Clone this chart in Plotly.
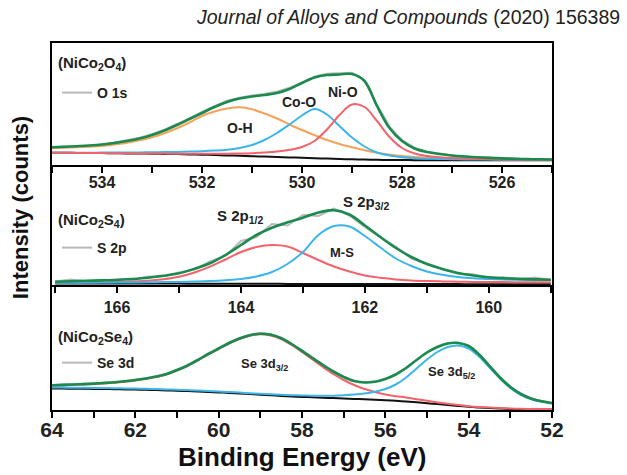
import plotly.graph_objects as go

# ---------------- O 1s (NiCo2O4) ----------------
O1s_energy = [535.0, 534.75, 534.5, 534.25, 534.0, 533.75, 533.5, 533.25, 533.0, 532.75, 532.5,
              532.25, 532.0, 531.75, 531.5, 531.25, 531.0, 530.75, 530.5, 530.25, 530.0, 529.75,
              529.5, 529.25, 529.0, 528.75, 528.5, 528.25, 528.0, 527.75, 527.5, 527.25, 527.0,
              526.75, 526.5, 526.25, 526.0, 525.75, 525.5, 525.25, 525.0]
O1s_raw = [17.5, 18.5, 18.6, 19.8, 20.3, 22.4, 24.6, 27.2, 30.8, 35.3, 41.2, 46.6, 53.0, 58.8,
           64.2, 67.3, 69.6, 70.9, 73.4, 77.2, 83.1, 88.4, 91.2, 91.6, 92.3, 84.5, 60.2, 38.4,
           24.8, 17.3, 13.2, 11.4, 9.6, 8.8, 7.6, 7.3, 6.5, 6.4, 5.8, 5.9, 5.4]
O1s_fit = [17.7, 18.2, 18.8, 19.5, 20.5, 22.0, 24.0, 26.5, 30.0, 34.5, 40.0, 46.0, 52.0, 58.0,
           63.0, 66.5, 68.5, 70.0, 72.0, 76.0, 82.0, 87.5, 90.0, 90.5, 91.0, 84.0, 59.0, 37.0,
           24.0, 16.5, 13.0, 11.0, 9.5, 8.5, 7.7, 7.1, 6.6, 6.2, 5.9, 5.7, 5.5]
O1s_OH = [16.7, 17.2, 17.7, 18.3, 19.0, 20.5, 22.3, 24.7, 27.7, 31.8, 36.7, 42.5, 49.0, 53.5,
          56.5, 57.7, 55.7, 51.5, 46.5, 40.5, 35.0, 29.8, 25.0, 21.0, 17.7, 14.8, 12.3, 10.5,
          9.0, 8.0, 7.3, 6.8, 6.5, 6.3, 6.1, 6.0, 5.9, 5.8, 5.7, 5.6, 5.5]
O1s_CoO = [12.3, 12.3, 12.3, 12.3, 12.4, 12.4, 12.5, 12.6, 12.7, 12.9, 13.1, 13.4, 13.8, 14.4,
           15.3, 17.0, 20.0, 25.0, 32.0, 40.5, 49.5, 56.0, 50.5, 39.0, 27.5, 18.5, 12.5, 9.5,
           7.8, 6.8, 6.3, 6.0, 5.8, 5.6, 5.5, 5.4, 5.3, 5.2, 5.1, 5.05, 5.0]
O1s_NiO = [12.2, 12.2, 12.1, 12.0, 11.9, 11.8, 11.7, 11.6, 11.5, 11.4, 11.3, 11.2, 11.2, 11.2,
           11.3, 11.5, 11.8, 12.4, 13.4, 15.2, 18.0, 24.0, 35.5, 50.0, 60.5, 58.0, 44.0, 28.0,
           17.0, 11.5, 9.0, 7.8, 7.0, 6.5, 6.1, 5.8, 5.6, 5.4, 5.3, 5.2, 5.1]
O1s_bg = [12.3, 12.2, 12.1, 12.0, 11.9, 11.8, 11.6, 11.5, 11.3, 11.1, 10.9, 10.6, 10.3, 10.0,
          9.6, 9.2, 8.8, 8.4, 8.0, 7.6, 7.2, 6.8, 6.4, 6.0, 5.7, 5.4, 5.2, 5.0, 4.9, 4.85,
          4.8, 4.8, 4.8, 4.75, 4.75, 4.75, 4.7, 4.7, 4.7, 4.7, 4.7]

# ---------------- S 2p (NiCo2S4) ----------------
S2p_energy = [167.0, 166.75, 166.5, 166.25, 166.0, 165.75, 165.5, 165.25, 165.0, 164.75, 164.5,
              164.25, 164.0, 163.75, 163.5, 163.25, 163.0, 162.75, 162.5, 162.25, 162.0, 161.75,
              161.5, 161.25, 161.0, 160.75, 160.5, 160.25, 160.0, 159.75, 159.5, 159.25, 159.0]
S2p_raw = [4.5, 6.5, 4.8, 5.4, 6.8, 6.2, 9.5, 9.8, 13.5, 16.5, 24.5, 30.0, 45.0, 49.0, 62.0,
           60.5, 71.0, 70.0, 77.5, 70.5, 59.0, 48.5, 39.5, 27.5, 22.5, 17.0, 12.3, 11.8, 8.2,
           8.6, 6.8, 8.4, 6.0]
S2p_fit = [4.3, 4.8, 5.2, 5.6, 6.0, 7.0, 8.3, 10.2, 12.7, 17.2, 22.7, 31.0, 41.0, 51.0, 58.3,
           63.7, 68.3, 73.5, 75.8, 71.5, 60.5, 49.0, 38.0, 29.0, 22.0, 17.0, 13.0, 10.5, 8.8,
           7.8, 7.1, 6.6, 6.3]
S2p_half = [3.3, 3.4, 3.5, 3.7, 4.0, 4.6, 5.3, 6.8, 9.3, 13.5, 19.3, 26.5, 34.0, 39.0, 41.0,
            39.5, 33.0, 26.0, 19.5, 14.5, 10.5, 8.2, 6.6, 5.6, 5.0, 4.6, 4.3, 4.1, 4.0, 3.9,
            3.8, 3.75, 3.7]
S2p_threehalf = [3.3, 3.3, 3.4, 3.4, 3.5, 3.6, 3.7, 3.9, 4.1, 4.5, 5.0, 5.8, 7.0, 9.5, 14.0,
                 22.0, 34.0, 51.0, 60.0, 59.5, 50.0, 38.5, 27.5, 20.0, 14.5, 11.2, 9.0, 7.7,
                 7.0, 6.5, 6.2, 6.0, 5.9]
S2p_bg = [2.6, 2.6, 2.6, 2.5, 2.5, 2.5, 2.4, 2.4, 2.4, 2.3, 2.3, 2.3, 2.2, 2.2, 2.2, 2.1, 2.1,
          2.1, 2.0, 2.0, 2.0, 2.0, 1.9, 1.9, 1.9, 1.9, 1.9, 1.8, 1.8, 1.8, 1.8, 1.8, 1.8]

# ---------------- Se 3d (NiCo2Se4) ----------------
Se3d_energy = [64.0, 63.75, 63.5, 63.25, 63.0, 62.75, 62.5, 62.25, 62.0, 61.75, 61.5, 61.25,
               61.0, 60.75, 60.5, 60.25, 60.0, 59.75, 59.5, 59.25, 59.0, 58.75, 58.5, 58.25,
               58.0, 57.75, 57.5, 57.25, 57.0, 56.75, 56.5, 56.25, 56.0, 55.75, 55.5, 55.25,
               55.0, 54.75, 54.5, 54.25, 54.0, 53.75, 53.5, 53.25, 53.0, 52.75, 52.5, 52.25, 52.0]
Se3d_raw = [24.6, 25.4, 25.3, 26.3, 26.2, 27.4, 27.6, 29.1, 30.3, 31.4, 33.9, 36.2, 40.4, 44.3,
            50.3, 56.6, 61.9, 67.6, 72.0, 75.2, 77.0, 75.9, 72.4, 66.3, 59.7, 52.4, 45.4, 38.8,
            33.4, 29.1, 27.8, 28.4, 31.2, 35.8, 42.3, 50.4, 57.8, 63.5, 67.0, 67.4, 64.4, 56.0,
            44.3, 33.0, 23.4, 16.4, 11.3, 8.9, 6.9]
Se3d_fit = [24.8, 25.1, 25.5, 25.9, 26.4, 27.0, 27.7, 28.7, 30.0, 31.5, 33.5, 36.0, 40.0, 44.5,
            50.0, 56.0, 61.5, 67.0, 71.5, 74.8, 76.3, 75.2, 71.8, 66.0, 59.2, 52.0, 45.0, 38.5,
            33.0, 29.0, 27.5, 28.2, 31.0, 35.5, 42.0, 50.0, 57.5, 63.0, 66.5, 67.0, 64.0, 55.5,
            44.0, 32.5, 23.0, 16.0, 11.5, 8.7, 7.0]
Se3d_threehalf = [24.3, 24.6, 25.0, 25.4, 25.9, 26.5, 27.2, 28.2, 29.5, 31.0, 33.0, 35.5, 39.5,
                  44.0, 49.5, 55.5, 61.0, 66.5, 71.0, 74.3, 75.7, 74.5, 71.0, 65.0, 58.0, 50.5,
                  43.0, 36.0, 30.0, 25.0, 21.0, 18.0, 15.5, 13.8, 12.5, 10.8, 9.2, 7.6, 6.2, 4.9,
                  3.8, 3.0, 2.4, 1.9, 1.5, 1.2, 1.0, 0.9, 0.8]
Se3d_fivehalf = [22.5, 22.4, 22.3, 22.2, 22.1, 22.0, 21.8, 21.6, 21.4, 21.2, 20.9, 20.6, 20.3,
                 19.9, 19.5, 19.0, 18.5, 18.0, 17.4, 16.8, 16.2, 15.7, 15.2, 14.8, 14.5, 14.3,
                 14.2, 14.3, 14.7, 15.4, 16.5, 18.3, 21.0, 25.5, 32.5, 41.5, 50.5, 58.0, 63.0,
                 64.5, 61.5, 53.5, 42.5, 31.5, 22.0, 15.2, 10.8, 8.3, 6.6]
Se3d_bg = [21.5, 21.4, 21.3, 21.2, 21.1, 21.0, 20.8, 20.6, 20.4, 20.2, 19.9, 19.6, 19.3, 18.9,
           18.5, 18.1, 17.6, 17.1, 16.5, 15.9, 15.3, 14.7, 14.1, 13.6, 13.1, 12.7, 12.3, 11.9,
           11.5, 11.1, 10.7, 10.3, 9.8, 9.2, 8.5, 7.7, 6.8, 5.9, 5.0, 4.1, 3.2, 2.5, 1.9, 1.4,
           1.0, 0.8, 0.6, 0.5, 0.4]

GREEN = "#1b8a4e"
ORANGE = "#f5a25a"
BLUE = "#3db5ea"
RED = "#f2636b"
GRAY = "#b9b9b9"
BLACK = "#111111"
FONT = "Liberation Sans"

fig = go.Figure()


def add_panel(xa, ya, energy, raw, comps, bg, fit, raw_name, legend_id):
    fig.add_trace(go.Scatter(x=energy, y=raw, mode="lines", name=raw_name,
                             line=dict(color=GRAY, width=2), xaxis=xa, yaxis=ya,
                             legend=legend_id, showlegend=True))
    fig.add_trace(go.Scatter(x=energy, y=bg, mode="lines", line=dict(color=BLACK, width=2, shape="spline"),
                             xaxis=xa, yaxis=ya, showlegend=False))
    for vals, col in comps:
        fig.add_trace(go.Scatter(x=energy, y=vals, mode="lines",
                                 line=dict(color=col, width=2, shape="spline"),
                                 xaxis=xa, yaxis=ya, showlegend=False))
    fig.add_trace(go.Scatter(x=energy, y=fit, mode="lines",
                             line=dict(color=GREEN, width=2.6, shape="spline"),
                             xaxis=xa, yaxis=ya, showlegend=False))


add_panel("x", "y", O1s_energy, O1s_raw, [(O1s_OH, ORANGE), (O1s_CoO, BLUE), (O1s_NiO, RED)],
          O1s_bg, O1s_fit, "O 1s", "legend")
add_panel("x2", "y2", S2p_energy, S2p_raw, [(S2p_half, RED), (S2p_threehalf, BLUE)],
          S2p_bg, S2p_fit, "S 2p", "legend2")
add_panel("x3", "y3", Se3d_energy, Se3d_raw, [(Se3d_threehalf, RED), (Se3d_fivehalf, BLUE)],
          Se3d_bg, Se3d_fit, "Se 3d", "legend3")


def xax(rng, anchor, size, mirror, standoff):
    return dict(range=rng, anchor=anchor, domain=[0, 1], dtick=2, tick0=0, ticks="outside",
                ticklen=6, tickwidth=2, tickcolor="black", showline=True, linewidth=2,
                linecolor="black", mirror=mirror, showgrid=False, zeroline=False,
                ticklabelstandoff=standoff,
                tickfont=dict(family=FONT, size=size, color="#222", weight="bold"),
                minor=dict(ticks="outside", dtick=1, tick0=0, ticklen=6, tickwidth=2,
                           tickcolor="black"))


def yax(rng, anchor, dom):
    return dict(range=rng, anchor=anchor, domain=dom, showline=True, linewidth=2,
                linecolor="black", mirror=True, ticks="", showticklabels=False,
                showgrid=False, zeroline=False)


leg = dict(bgcolor="rgba(0,0,0,0)", borderwidth=0, xanchor="left", yanchor="middle",
           font=dict(family=FONT, size=14, color="#222", weight="bold"), itemwidth=30)

fig.update_layout(
    width=627, height=475,
    margin=dict(l=52, r=75, t=43, b=65),
    paper_bgcolor="white", plot_bgcolor="white",
    xaxis=xax([535, 525], "y", 16, True, -4),
    xaxis2=xax([167.05, 158.98], "y2", 16, False, 1),
    xaxis3=xax([64, 52], "y3", 21, False, -6),
    yaxis=yax([0, 122], "x", [0.6676, 1]),
    yaxis2=yax([1, 121], "x2", [0.3406, 0.6676]),
    yaxis3=yax([0, 125], "x3", [0, 0.3406]),
    legend=dict(leg, x=0.01, y=0.8638),
    legend2=dict(leg, x=0.01, y=0.4414),
    legend3=dict(leg, x=0.01, y=0.128),
)

ann = []
bold15 = dict(family=FONT, size=15, color="#222")
# panel labels
for txt, yp in [("(NiCo<sub>2</sub>O<sub>4</sub>)", 0.9428),
                ("(NiCo<sub>2</sub>S<sub>4</sub>)", 0.5177),
                ("(NiCo<sub>2</sub>Se<sub>4</sub>)", 0.1989)]:
    ann.append(dict(text="<b>" + txt + "</b>", xref="paper", yref="paper", x=0.008, y=yp,
                    xanchor="left", yanchor="middle", showarrow=False, font=bold15))
# peak labels
peaks = [("O-H", "x", "y", 531.24, 37, 14), ("Co-O", "x", "y", 530.06, 63, 14),
         ("Ni-O", "x", "y", 529.18, 73, 14),
         ("S 2p<sub>1/2</sub>", "x2", "y2", 164.02, 69, 15),
         ("S 2p<sub>3/2</sub>", "x2", "y2", 161.99, 83, 15),
         ("M-S", "x2", "y2", 162.37, 34, 13),
         ("Se 3d<sub>3/2</sub>", "x3", "y3", 58.91, 45, 13),
         ("Se 3d<sub>5/2</sub>", "x3", "y3", 54.42, 37, 13)]
for txt, xr, yr, xv, yv, sz in peaks:
    ann.append(dict(text="<b>" + txt + "</b>", xref=xr, yref=yr, x=xv, y=yv, showarrow=False,
                    xanchor="center", yanchor="middle",
                    font=dict(family=FONT, size=sz, color="#222")))
ann.append(dict(text="<b>Intensity (counts)</b>", xref="paper", yref="paper", x=-0.064, y=0.55,
                textangle=-90, showarrow=False, xanchor="center", yanchor="middle",
                font=dict(family=FONT, size=22, color="#111")))
ann.append(dict(text="<b>Binding Energy (eV)</b>", xref="paper", yref="paper", x=0.5, y=-0.128,
                showarrow=False, xanchor="center", yanchor="middle",
                font=dict(family=FONT, size=26, color="#111")))
ann.append(dict(text="<i>Journal of Alloys and Compounds</i> (2020) 156389", xref="paper",
                yref="paper", x=1.14, y=1.0708, showarrow=False, xanchor="right",
                yanchor="middle", font=dict(family=FONT, size=19.5, color="#222")))
fig.update_layout(annotations=ann)

fig.write_html("out.html")
